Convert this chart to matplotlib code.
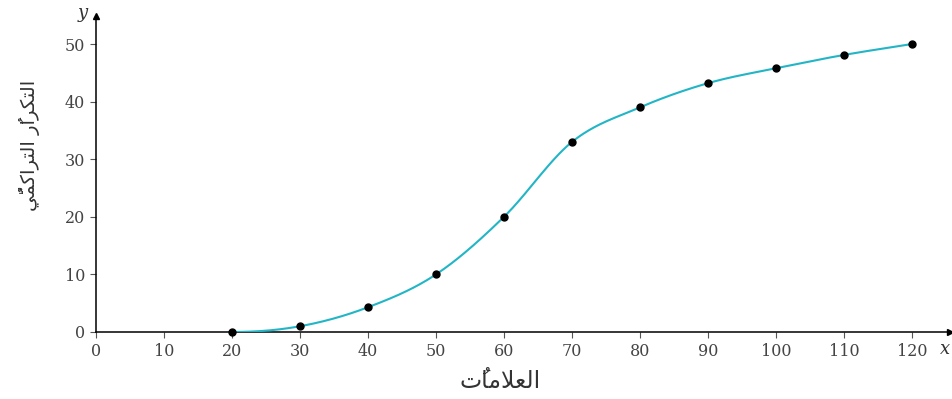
import numpy as np
import matplotlib
matplotlib.use("Agg")
import matplotlib.pyplot as plt

# Data
marks_x = [20, 30, 40, 50, 60, 70, 80, 90, 100, 110, 120]
cum_freq = [0, 1, 4.3, 10, 20, 33, 39, 43.2, 45.8, 48.1, 50]
x_ticks = [0, 10, 20, 30, 40, 50, 60, 70, 80, 90, 100, 110, 120]
y_ticks = [0, 10, 20, 30, 40, 50]
x_title = "العلاماتُ"
y_title = "التكرارُ التراكميُّ"

curve_color = "#22b5c6"
tick_color = "#444444"

# minimal Arabic shaping (matplotlib has no complex text layout)
FORMS = {
    "ا": (0xFE8D, 0xFE8E, None, None),
    "ر": (0xFEAD, 0xFEAE, None, None),
    "ل": (0xFEDD, 0xFEDE, 0xFEDF, 0xFEE0),
    "ع": (0xFEC9, 0xFECA, 0xFECB, 0xFECC),
    "م": (0xFEE1, 0xFEE2, 0xFEE3, 0xFEE4),
    "ت": (0xFE95, 0xFE96, 0xFE97, 0xFE98),
    "ك": (0xFED9, 0xFEDA, 0xFEDB, 0xFEDC),
    "ي": (0xFEF1, 0xFEF2, 0xFEF3, 0xFEF4),
    "LA": (0xFEFB, 0xFEFC, None, None),
}
MARKS = "\u064b\u064c\u064d\u064e\u064f\u0650\u0651\u0652"


def shape(text):
    clusters = []
    i = 0
    while i < len(text):
        ch = text[i]
        if ch in MARKS:
            clusters[-1][1] += ch
            i += 1
            continue
        if ch == "ل" and i + 1 < len(text) and text[i + 1] == "ا":
            clusters.append(["LA", ""])
            i += 2
            continue
        clusters.append([ch, ""])
        i += 1
    out = []
    for k, (base, mk) in enumerate(clusters):
        if base not in FORMS:
            out.append(base + mk)
            continue
        prev = clusters[k - 1][0] if k > 0 else None
        nxt = clusters[k + 1][0] if k + 1 < len(clusters) else None
        joins_prev = prev in FORMS and FORMS[prev][2] is not None
        joins_next = FORMS[base][2] is not None and nxt in FORMS
        iso, fin, ini, med = FORMS[base]
        if joins_prev and joins_next:
            g = med
        elif joins_prev:
            g = fin
        elif joins_next:
            g = ini
        else:
            g = iso
        out.append(chr(g) + mk)
    return "".join(reversed(out))


def smooth(x, y, xs):
    # Catmull-Rom style Hermite curve, flat at the first point
    x = np.asarray(x, float)
    y = np.asarray(y, float)
    m = np.zeros_like(y)
    m[1:-1] = (y[2:] - y[:-2]) / (x[2:] - x[:-2])
    m[-1] = (y[-1] - y[-2]) / (x[-1] - x[-2])
    h = np.diff(x)
    idx = np.clip(np.searchsorted(x, xs) - 1, 0, len(x) - 2)
    t = (xs - x[idx]) / h[idx]
    h00 = 2 * t**3 - 3 * t**2 + 1
    h10 = t**3 - 2 * t**2 + t
    h01 = -2 * t**3 + 3 * t**2
    h11 = t**3 - t**2
    return h00 * y[idx] + h10 * h[idx] * m[idx] + h01 * y[idx + 1] + h11 * h[idx] * m[idx + 1]


plt.rcParams["font.family"] = ["DejaVu Serif"]

W, H = 952, 399
fig = plt.figure(figsize=(W / 100, H / 100), dpi=100)
x0, x1 = 96, 950
y0, y1 = 332, 16
ax = fig.add_axes([x0 / W, (H - y0) / H, (x1 - x0) / W, (y0 - y1) / H])
ax.set_xlim(0, 120 * (x1 - x0) / (912 - x0))
ax.set_ylim(0, 50 * (y0 - y1) / (y0 - 44))

xs = np.linspace(marks_x[0], marks_x[-1], 500)
ax.plot(xs, smooth(marks_x, cum_freq, xs), color=curve_color, lw=1.5, zorder=3)
ax.plot(marks_x, cum_freq, "o", color="black", ms=5, zorder=4, clip_on=False)

for s in ["top", "right"]:
    ax.spines[s].set_visible(False)
ax.spines["left"].set_linewidth(1.1)
ax.spines["bottom"].set_linewidth(1.1)
ax.plot(1, 0, ">", color="black", ms=5, transform=ax.transAxes, clip_on=False)
ax.plot(0, 1, "^", color="black", ms=5, transform=ax.transAxes, clip_on=False)

ax.set_xticks(x_ticks)
ax.set_yticks(y_ticks)
ax.tick_params(axis="both", direction="out", length=4, width=0.8, color="#555555",
               labelsize=11.5, labelcolor=tick_color)
ax.tick_params(axis="x", pad=4)
ax.tick_params(axis="y", pad=4)

fig.text(945 / W, 1 - 349 / H, "x", style="italic", fontsize=13, color="#333333",
         ha="center", va="center")
fig.text(83 / W, 1 - 13 / H, "y", style="italic", fontsize=13, color="#333333",
         ha="center", va="center")

fig.text(500 / W, 1 - 381 / H, shape(x_title), family=["DejaVu Sans"], fontsize=17,
         color="#333333", ha="center", va="center")
fig.text(30 / W, 1 - 145 / H, shape(y_title), family=["DejaVu Sans"], fontsize=14,
         color="#333333", ha="center", va="center", rotation=90)

fig.savefig("out.png", dpi=100)
